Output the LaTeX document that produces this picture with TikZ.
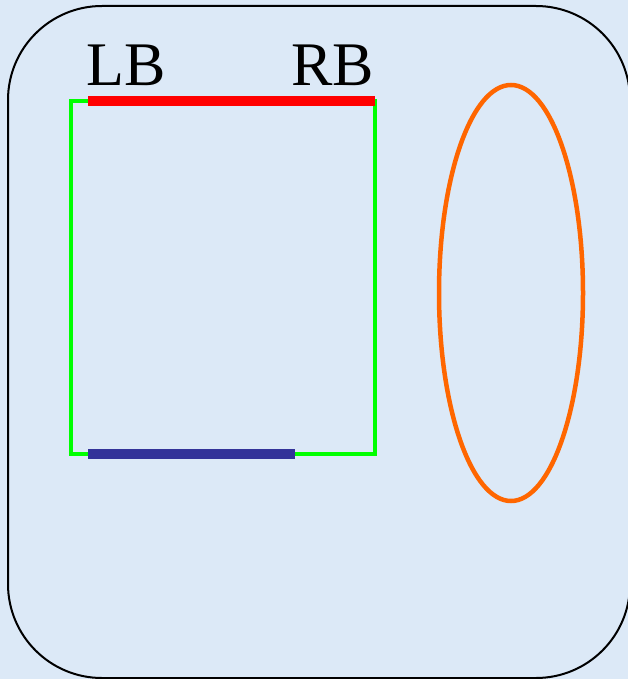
\documentclass[tikz,border=0pt]{standalone}
\usepackage{fontspec}
\setmainfont{Liberation Serif}
\usetikzlibrary{shapes.geometric}
\definecolor{bgblue}{RGB}{220,233,247}
\definecolor{navy}{RGB}{51,51,153}
\definecolor{orng}{RGB}{255,102,0}
\definecolor{lgreen}{RGB}{0,255,0}
\begin{document}
\begin{tikzpicture}[x=1pt,y=-1pt,
  lbl/.style={inner sep=0pt,font=\fontsize{62}{62}\selectfont},
  frame/.style={draw=black,line width=2pt,rounded corners=94pt}]
\useasboundingbox (0,0) rectangle (628,679);
\fill[bgblue] (0,0) rectangle (628,679);
\draw[frame] (8,6) rectangle (630,678);
\coordinate (tl) at (71,101);
\coordinate (tr) at (375,101);
\coordinate (br) at (375,454);
\coordinate (bl) at (71,454);
\coordinate (r1) at (88,101);
\coordinate (b1) at (88,454);
\coordinate (b2) at (295,454);
\draw[lgreen,line width=4.5pt] (tl) -- (tr) -- (br) -- (bl) -- cycle;
\draw[red,line width=10.5pt] (r1) -- (tr);
\draw[navy,line width=10pt] (b1) -- (b2);
\node[draw=orng,line width=4.5pt,ellipse,minimum width=144pt,minimum height=416pt,inner sep=0pt] (ell) at (511,293) {};
\node[lbl,anchor=base west] (lb) at (86,86) {LB};
\node[lbl,anchor=base east] (rb) at (374,86) {RB};
\end{tikzpicture}
\end{document}
